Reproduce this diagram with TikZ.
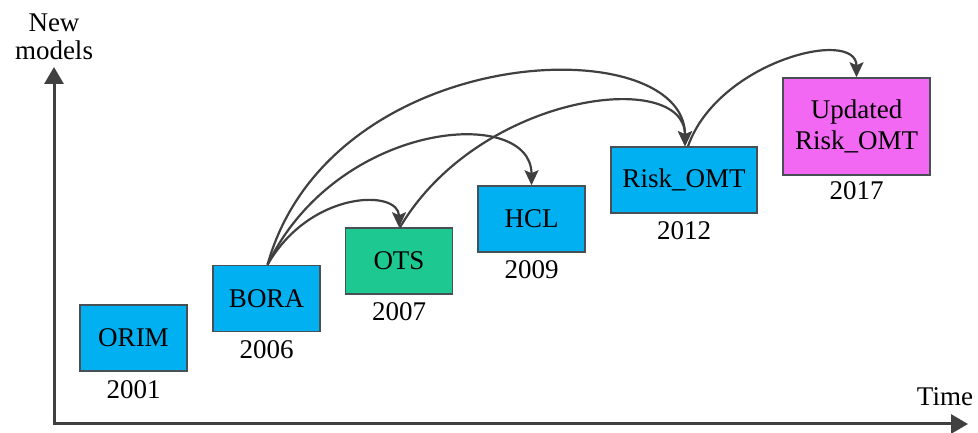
\documentclass[tikz,border=0pt]{standalone}
\usepackage{fontspec}
\newfontfamily\diagfont{Liberation Serif}
\usetikzlibrary{arrows.meta}
\definecolor{boxblue}{RGB}{0,176,240}
\definecolor{boxgreen}{RGB}{30,200,145}
\definecolor{boxpink}{RGB}{242,104,242}
\definecolor{linegray}{RGB}{64,64,64}
\definecolor{edgegray}{RGB}{70,80,85}
\begin{document}
\begin{tikzpicture}[x=1.5pt,y=1.5pt,
  txt/.style={font=\diagfont\fontsize{40.5}{46.5}\selectfont},
  model/.style={txt,draw=edgegray,line width=2.25pt,minimum height=99pt,minimum width=160.5pt,inner sep=0pt,align=center},
  yearlbl/.style={txt,anchor=base,inner sep=0pt},
  axis/.style={draw=linegray,line width=4.5pt,-{Triangle[length=25.5pt,width=28.5pt]}},
  link/.style={draw=linegray,line width=3.3pt,-{Stealth[length=22.5pt,width=21pt,inset=4.5pt]}}]
\useasboundingbox (0,0) rectangle (978,433);

% axes (y measured upwards from the bottom edge)
\coordinate (origin) at (54,9);
\coordinate (ytop) at (54,366);
\coordinate (xend) at (968,9);
\draw[axis] ([yshift=-2.25pt]origin) -- (ytop);
\draw[axis] ([xshift=-2.25pt]origin) -- (xend);
\node[txt,align=center,inner sep=0pt] (ylabel) at (54,396) {New\\[-4.5pt]models};
\node[txt,inner sep=0pt] (xlabel) at (945,36) {Time};

% model boxes
\node[model,fill=boxblue] (orim) at (133.5,95) {ORIM};
\node[model,fill=boxblue] (bora) at (266.5,134.5) {BORA};
\node[model,fill=boxgreen] (ots) at (399,172) {OTS};
\node[model,fill=boxblue] (hcl) at (531.5,214) {HCL};
\node[model,fill=boxblue,minimum width=219pt] (risk) at (684,253) {Risk\_OMT};
\node[model,fill=boxpink,minimum width=220.5pt,minimum height=145.5pt] (upd) at (856.5,306.5) {Updated\\Risk\_OMT};

% years
\node[yearlbl] (y1) at ([yshift=-40.5pt]orim.south) {2001};
\node[yearlbl] (y2) at ([yshift=-39pt]bora.south) {2006};
\node[yearlbl] (y3) at ([yshift=-39pt]ots.south) {2007};
\node[yearlbl] (y4) at ([yshift=-39pt]hcl.south) {2009};
\node[yearlbl] (y5) at ([yshift=-39pt]risk.south) {2012};
\node[yearlbl] (y6) at ([yshift=-36pt]upd.south) {2017};

% evolution links
\draw[link] ([xshift=1.5pt]bora.north) .. controls +(43,75) and +(0,38) .. (ots.north);
\draw[link] ([xshift=1.5pt]bora.north) .. controls +(70,145) and +(0,80) .. (hcl.north);
\draw[link] ([xshift=1.5pt]bora.north) .. controls +(63,225) and +(0,118) .. ([xshift=1.5pt]risk.north);
\draw[link] ([xshift=1.5pt]ots.north) .. controls +(80,135) and +(0,78) .. ([xshift=1.5pt]risk.north);
\draw[link] ([xshift=6pt]risk.north) .. controls +(30,85) and +(0,50) .. (upd.north);
\end{tikzpicture}
\end{document}
